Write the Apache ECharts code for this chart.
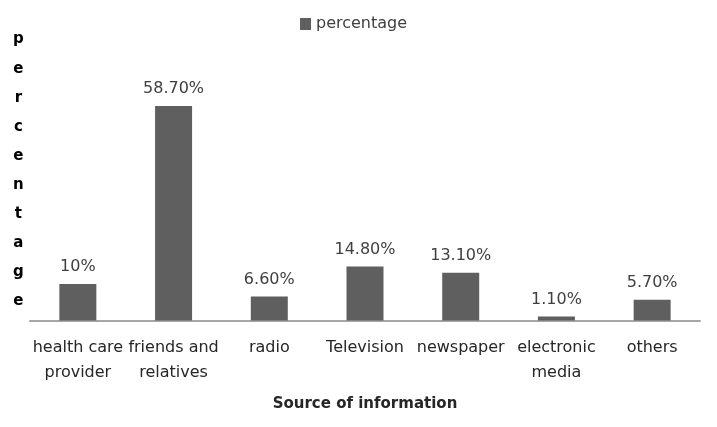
<!DOCTYPE html>
<html>
<head>
<meta charset="utf-8">
<script src="https://cdn.jsdelivr.net/npm/echarts@6/dist/echarts.min.js"></script>
<style>html,body{margin:0;padding:0;background:#fff;}#c{width:717px;height:427px;}</style>
</head>
<body>
<div id="c"></div>
<script>
var categories = ["health care\nprovider", "friends and\nrelatives", "radio", "Television", "newspaper", "electronic\nmedia", "others"];
var values = [10, 58.7, 6.6, 14.8, 13.1, 1.1, 5.7];
var valueLabels = ["10%", "58.70%", "6.60%", "14.80%", "13.10%", "1.10%", "5.70%"];
var seriesName = "percentage";
var xTitle = "Source of information";
var yTitle = "percentage";

var FONT = "DejaVu Sans";
var chart = echarts.init(document.getElementById('c'));
chart.setOption({
  animation: false,
  backgroundColor: '#fff',
  textStyle: {fontFamily: FONT},
  legend: {
    data: [{name: seriesName, icon: 'rect'}], left: 295, top: 11, itemWidth: 11, itemHeight: 12, itemGap: 6,
    textStyle: {fontFamily: FONT, fontSize: 16, color: '#404040', padding: [0, 0, 0, 0]}
  },
  grid: {left: 30, right: 17, top: 64.7, bottom: 106.5, containLabel: false},
  xAxis: {
    type: 'category', data: categories,
    axisLine: {lineStyle: {color: '#a6a6a6', width: 2}},
    axisTick: {show: false},
    axisLabel: {interval: 0, margin: 15, lineHeight: 25, fontSize: 16, color: '#262626', fontFamily: FONT},
    name: xTitle, nameLocation: 'middle', nameGap: 76,
    nameTextStyle: {fontSize: 15, fontWeight: 'bold', color: '#262626', fontFamily: FONT}
  },
  yAxis: {
    type: 'value', min: 0, max: 70,
    axisLine: {show: false}, axisTick: {show: false}, axisLabel: {show: false}, splitLine: {show: false}
  },
  graphic: [{
    type: 'text', left: 13, top: 25,
    style: {text: yTitle.split('').join('\n'), font: 'bold 15px "DejaVu Sans"', fill: '#000', lineHeight: 29.1, textAlign: 'center'}
  }],
  series: [{
    name: seriesName, type: 'bar', data: values, barWidth: 37,
    itemStyle: {color: '#5f5f5f'},
    label: {show: true, position: 'top', distance: 9, fontSize: 16, color: '#404040', fontFamily: FONT,
      formatter: function(p){ return valueLabels[p.dataIndex]; }}
  }]
});
</script>
</body>
</html>
